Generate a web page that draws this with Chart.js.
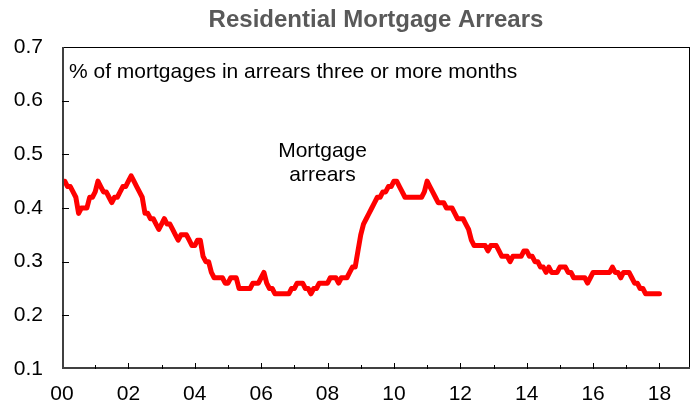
<!DOCTYPE html>
<html>
<head>
<meta charset="utf-8">
<script src="https://cdn.jsdelivr.net/npm/chart.js@4.4.1/dist/chart.umd.min.js"></script>
<style>
  html, body { margin: 0; padding: 0; background: #ffffff; }
  #wrap { width: 694px; height: 412px; position: relative; }
</style>
</head>
<body>
<div id="wrap"><canvas id="c" width="694" height="412"></canvas></div>
<script>
// ---- data (monthly, starting January 2000) ----
const title = "Residential Mortgage Arrears";
const subtitle = "% of mortgages in arrears three or more months";
const seriesLabel = ["Mortgage", "arrears"];
const startYear = 2000;
const yTicks = [0.1, 0.2, 0.3, 0.4, 0.5, 0.6, 0.7];
const xTickLabels = ["00", "02", "04", "06", "08", "10", "12", "14", "16", "18"];
const arrears2000 = [0.45, 0.45, 0.44, 0.44, 0.43, 0.42, 0.39, 0.40, 0.40, 0.40, 0.42, 0.42];
const arrears2001 = [0.43, 0.45, 0.44, 0.43, 0.43, 0.42, 0.41, 0.42, 0.42, 0.43, 0.44, 0.44];
const arrears2002 = [0.45, 0.46, 0.45, 0.44, 0.43, 0.42, 0.39, 0.39, 0.38, 0.38, 0.37, 0.36];
const arrears2003 = [0.37, 0.38, 0.37, 0.37, 0.36, 0.35, 0.34, 0.35, 0.35, 0.35, 0.34, 0.33];
const arrears2004 = [0.33, 0.34, 0.34, 0.31, 0.30, 0.30, 0.28, 0.27, 0.27, 0.27, 0.27, 0.26];
const arrears2005 = [0.26, 0.27, 0.27, 0.27, 0.25, 0.25, 0.25, 0.25, 0.25, 0.26, 0.26, 0.26];
const arrears2006 = [0.27, 0.28, 0.26, 0.25, 0.25, 0.24, 0.24, 0.24, 0.24, 0.24, 0.24, 0.25];
const arrears2007 = [0.25, 0.26, 0.26, 0.26, 0.25, 0.25, 0.24, 0.25, 0.25, 0.26, 0.26, 0.26];
const arrears2008 = [0.26, 0.27, 0.27, 0.27, 0.26, 0.27, 0.27, 0.27, 0.28, 0.29, 0.29, 0.32];
const arrears2009 = [0.35, 0.37, 0.38, 0.39, 0.40, 0.41, 0.42, 0.42, 0.43, 0.43, 0.44, 0.44];
const arrears2010 = [0.45, 0.45, 0.44, 0.43, 0.42, 0.42, 0.42, 0.42, 0.42, 0.42, 0.42, 0.43];
const arrears2011 = [0.45, 0.44, 0.43, 0.42, 0.41, 0.41, 0.41, 0.40, 0.40, 0.40, 0.39, 0.38];
const arrears2012 = [0.38, 0.38, 0.37, 0.36, 0.34, 0.33, 0.33, 0.33, 0.33, 0.33, 0.32, 0.33];
const arrears2013 = [0.33, 0.33, 0.32, 0.31, 0.31, 0.31, 0.30, 0.31, 0.31, 0.31, 0.31, 0.32];
const arrears2014 = [0.32, 0.31, 0.31, 0.30, 0.30, 0.29, 0.29, 0.28, 0.29, 0.28, 0.28, 0.28];
const arrears2015 = [0.29, 0.29, 0.29, 0.28, 0.28, 0.27, 0.27, 0.27, 0.27, 0.27, 0.26, 0.27];
const arrears2016 = [0.28, 0.28, 0.28, 0.28, 0.28, 0.28, 0.28, 0.29, 0.28, 0.28, 0.27, 0.28];
const arrears2017 = [0.28, 0.28, 0.27, 0.26, 0.26, 0.25, 0.25, 0.24, 0.24, 0.24, 0.24, 0.24];
const arrears2018 = [0.24];

const monthly = [].concat(arrears2000, arrears2001, arrears2002, arrears2003, arrears2004,
  arrears2005, arrears2006, arrears2007, arrears2008, arrears2009, arrears2010, arrears2011,
  arrears2012, arrears2013, arrears2014, arrears2015, arrears2016, arrears2017, arrears2018);
const points = monthly.map((v, i) => ({ x: i / 12, y: v }));

const FONT = "'Liberation Sans', Arial, sans-serif";

const decor = {
  id: 'decor',
  afterDraw(chart) {
    const { ctx, chartArea: a, scales } = chart;
    const xs = scales.x, ys = scales.y;
    ctx.save();
    // frame
    ctx.strokeStyle = '#000000';
    ctx.lineWidth = 1;
    ctx.strokeRect(a.left + 0.5, a.top + 0.5, a.right - a.left - 1, a.bottom - a.top - 1);
    ctx.strokeStyle = '#404040';
    ctx.lineWidth = 2;
    ctx.beginPath();
    ctx.moveTo(a.left + 1, a.top); ctx.lineTo(a.left + 1, a.bottom);
    ctx.moveTo(a.left, a.bottom - 1); ctx.lineTo(a.right, a.bottom - 1);
    ctx.stroke();
    // inward ticks
    ctx.strokeStyle = '#000000';
    ctx.lineWidth = 1;
    ctx.beginPath();
    for (let yr = 1; yr <= 18; yr++) {
      const px = Math.round(xs.getPixelForValue(yr)) + 0.5;
      const len = (yr % 2 === 0) ? 6 : 4;
      ctx.moveTo(px, a.bottom); ctx.lineTo(px, a.bottom - len);
    }
    yTicks.forEach(v => {
      if (v <= 0.1 || v >= 0.7) return;
      const py = Math.round(ys.getPixelForValue(v)) + 0.5;
      ctx.moveTo(a.left, py); ctx.lineTo(a.left + 7, py);
    });
    ctx.stroke();
    // title
    ctx.fillStyle = '#595959';
    ctx.font = 'bold 24px ' + FONT;
    ctx.textAlign = 'center';
    ctx.textBaseline = 'middle';
    ctx.fillText(title, (a.left + a.right) / 2, 20);
    // subtitle inside plot
    ctx.fillStyle = '#000000';
    ctx.font = '21px ' + FONT;
    ctx.textAlign = 'left';
    ctx.fillText(subtitle, a.left + 7, 72);
    // series label
    ctx.textAlign = 'center';
    ctx.fillText(seriesLabel[0], xs.getPixelForValue(7.85), 151);
    ctx.fillText(seriesLabel[1], xs.getPixelForValue(7.85), 175);
    ctx.restore();
  }
};

new Chart(document.getElementById('c'), {
  type: 'line',
  data: {
    datasets: [{
      label: 'Mortgage arrears',
      data: points,
      borderColor: '#ff0000',
      backgroundColor: '#ff0000',
      borderWidth: 5,
      pointRadius: 0,
      tension: 0,
      borderJoinStyle: 'round',
      borderCapStyle: 'round',
      fill: false
    }]
  },
  options: {
    responsive: false,
    animation: false,
    events: [],
    layout: { padding: { top: 47, right: 4, left: 0, bottom: 0 } },
    plugins: { legend: { display: false }, tooltip: { enabled: false }, title: { display: false } },
    scales: {
      x: {
        type: 'linear',
        min: 0,
        max: 18.92,
        grid: { display: false, drawTicks: false },
        border: { display: false },
        afterFit(s) { s.height = 43; },
        afterBuildTicks(s) { s.ticks = xTickLabels.map((t, i) => ({ value: i * 2 })); },
        ticks: {
          padding: 13,
          color: '#000000',
          font: { family: FONT, size: 21 },
          maxRotation: 0,
          autoSkip: false,
          callback: (v) => xTickLabels[Math.round(v / 2)]
        }
      },
      y: {
        min: 0.1,
        max: 0.7,
        grid: { display: false, drawTicks: false },
        border: { display: false },
        afterFit(s) { s.width = 62; },
        afterBuildTicks(s) { s.ticks = yTicks.map(v => ({ value: v })); },
        ticks: {
          padding: 19,
          color: '#000000',
          font: { family: FONT, size: 21 },
          callback: (v) => v.toFixed(1)
        }
      }
    }
  },
  plugins: [decor]
});
</script>
</body>
</html>
